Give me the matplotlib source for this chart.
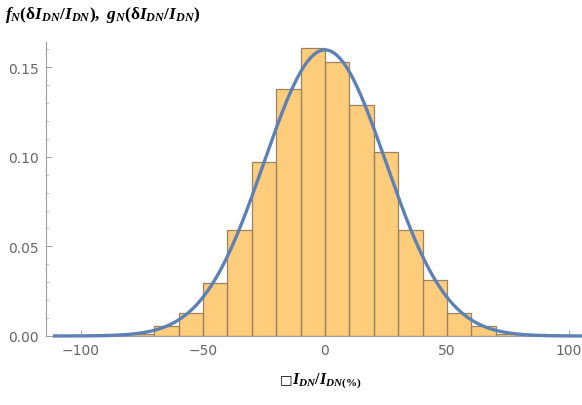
import numpy as np
import matplotlib
matplotlib.use("Agg")
import matplotlib.pyplot as plt
from matplotlib.ticker import MultipleLocator

# histogram: bin edges (percent) and fraction of samples per bin
bin_edges = [-80, -70, -60, -50, -40, -30, -20, -10, 0, 10, 20, 30, 40, 50, 60, 70, 80]
bin_heights = [0.001, 0.0057, 0.013, 0.0295, 0.059, 0.097, 0.1377, 0.1606,
               0.1526, 0.129, 0.1026, 0.0593, 0.0312, 0.013, 0.0056, 0.0012]

# fitted normal curve g_N (mean, std in %, scaled by the bin width)
fit_mean = 0.0
fit_std = 25.0
bin_width = 10.0

x_ticks = [-100, -50, 0, 50, 100]
y_ticks = [0.00, 0.05, 0.10, 0.15]

plt.rcParams["mathtext.fontset"] = "custom"
plt.rcParams["mathtext.it"] = "Liberation Serif:bold:italic"
plt.rcParams["mathtext.rm"] = "Liberation Serif:bold"
plt.rcParams["mathtext.bf"] = "Liberation Serif:bold"

fig = plt.figure(figsize=(5.82, 4.06), dpi=100)
ax = fig.add_axes([46 / 582, 69 / 406, 536 / 582, 294 / 406])

ax.stairs(bin_heights, bin_edges, fill=True, facecolor="#fdcd7c",
          edgecolor="none", zorder=1)
lefts = np.array(bin_edges[:-1])
ax.bar(lefts, bin_heights, width=np.diff(bin_edges), align="edge",
       facecolor="none", edgecolor="#9a8462", linewidth=0.9, zorder=2)

xs = np.linspace(-111.5, 105.5, 600)
gs = bin_width * np.exp(-0.5 * ((xs - fit_mean) / fit_std) ** 2) / (fit_std * np.sqrt(2 * np.pi))
ax.plot(xs, gs, color="#5e81b5", linewidth=2.4, zorder=3, clip_on=False,
        solid_capstyle="butt")

ax.set_xlim(-114.3, 105.3)
ax.set_ylim(0, 0.164)
ax.set_xticks(x_ticks)
ax.set_xticklabels(["\u2212100", "\u221250", "0", "50", "100"])
ax.set_yticks(y_ticks)
ax.set_yticklabels([f"{v:.2f}" for v in y_ticks])
ax.xaxis.set_minor_locator(MultipleLocator(10))
ax.yaxis.set_minor_locator(MultipleLocator(0.01))

for s in ["top", "right"]:
    ax.spines[s].set_visible(False)
for s in ["left", "bottom"]:
    ax.spines[s].set_color("#a0a0a0")
    ax.spines[s].set_linewidth(0.8)
ax.tick_params(which="major", direction="in", length=4, width=0.7,
               color="#a0a0a0", labelcolor="#666666", labelsize=10, pad=5)
ax.tick_params(which="minor", direction="in", length=2, width=0.5, color="#b0b0b0")

fig.text(5 / 582, 1 - 15 / 406,
         r"$f_N(\mathrm{\delta}I_{DN}/I_{DN}),\ g_N(\mathrm{\delta}I_{DN}/I_{DN})$",
         fontsize=12.5, ha="left", va="center", color="black")
fig.text(280 / 582, 1 - 380 / 406, "\u25a1",
         fontsize=9.5, ha="left", va="center", color="black")
fig.text(292 / 582, 1 - 381 / 406, r"$I_{DN}/I_{DN\mathrm{(\%)}}$",
         fontsize=11.5, ha="left", va="center", color="black")

fig.savefig("out.png", dpi=100)
